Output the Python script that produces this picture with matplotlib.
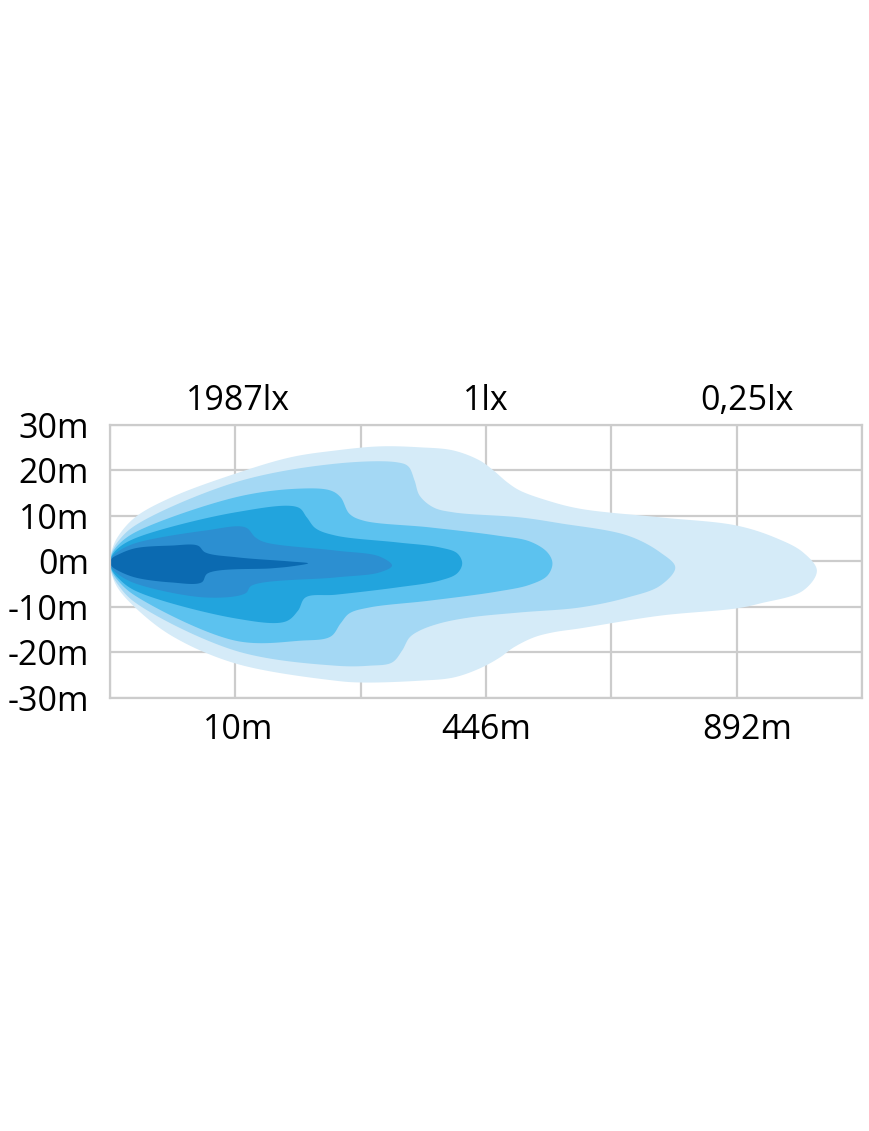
import numpy as np
import matplotlib
matplotlib.use("Agg")
from matplotlib import pyplot as plt

plt.rcParams['font.family'] = ['Open Sans', 'DejaVu Sans']

# label positions (in grid columns) and texts
label_pos = [1.02, 3.0, 5.08]
dist_labels = ['10m', '446m', '892m']
lux_labels = ['1987lx', '1lx', '0,25lx']
grid_cols = [0, 1, 2, 3, 4, 5, 6]
height_ticks = [30, 20, 10, 0, -10, -20, -30]
height_labels = ['30m', '20m', '10m', '0m', '-10m', '-20m', '-30m']

# isolux outlines, (column, metres), outer -> inner
zone1 = [(0, -0.2), (0.016, 2.6), (0.064, 5.5), (0.20, 9.7), (0.49, 14.1), (1.00, 19.3),
         (1.44, 22.9), (1.80, 24.4), (2.15, 25.3), (2.47, 25.1), (2.74, 24.4), (2.95, 22.2),
         (3.06, 20.0), (3.17, 17.4), (3.27, 15.6), (3.49, 13.4), (3.75, 11.6), (4.39, 9.7),
         (5.00, 7.9), (5.32, 5.1), (5.53, 2.0), (5.64, -2.0), (5.53, -6.4), (5.19, -9.2),
         (5.00, -10.3), (4.39, -11.9), (3.75, -14.7), (3.53, -15.6), (3.38, -16.7),
         (3.22, -18.9), (3.11, -21.1), (2.95, -23.5), (2.74, -25.5), (2.47, -26.2),
         (2.02, -26.6), (1.80, -26.2), (1.00, -22.4), (0.49, -16.3), (0.20, -10.1),
         (0.064, -5.9), (0.016, -3.0)]
zone2 = [(0, -0.2), (0.016, 2.1), (0.064, 4.4), (0.20, 7.9), (1.00, 17.4), (1.80, 21.5),
         (2.29, 21.8), (2.38, 20.9), (2.43, 17.8), (2.47, 14.5), (2.58, 11.9), (2.74, 10.8),
         (3.27, 9.7), (3.59, 8.4), (4.13, 5.7), (4.39, 2.0), (4.51, -1.3), (4.39, -5.3),
         (4.13, -7.9), (3.75, -10.1), (3.27, -11.2), (2.87, -12.3), (2.63, -13.6),
         (2.47, -15.2), (2.39, -16.7), (2.33, -19.6), (2.25, -22.2), (2.07, -22.9),
         (1.80, -22.9), (1.00, -19.6), (0.20, -9.0), (0.064, -5.1), (0.016, -2.7)]
zone3 = [(0, -0.2), (0.016, 1.7), (0.064, 3.6), (0.20, 6.4), (1.00, 14.1), (1.50, 16.0),
         (1.76, 15.6), (1.84, 14.1), (1.91, 10.5), (2.02, 9.0), (2.55, 7.5), (3.09, 5.7),
         (3.35, 4.4), (3.49, 2.0), (3.53, -0.4), (3.49, -3.1), (3.35, -5.1), (3.09, -6.6),
         (2.55, -8.6), (2.07, -10.1), (1.91, -11.4), (1.84, -13.6), (1.76, -16.5),
         (1.52, -17.4), (1.00, -17.4), (0.20, -7.5), (0.064, -4.2), (0.016, -2.2)]
zone4 = [(0, -0.2), (0.016, 1.3), (0.064, 2.9), (0.20, 5.1), (1.00, 10.8), (1.50, 11.9),
         (1.57, 9.7), (1.64, 7.3), (1.80, 5.7), (2.29, 4.2), (2.63, 3.1), (2.77, 1.8),
         (2.81, -0.4), (2.77, -2.6), (2.63, -4.2), (2.29, -5.7), (1.80, -7.3), (1.56, -7.9),
         (1.50, -10.8), (1.40, -13.2), (1.00, -12.5), (0.20, -6.4), (0.064, -3.6),
         (0.016, -1.9)]
zone5 = [(0, -0.2), (0.016, 1.0), (0.064, 2.2), (0.20, 4.0), (0.76, 6.8), (1.08, 7.5),
         (1.16, 5.3), (1.24, 4.2), (1.80, 2.4), (2.15, 1.1), (2.25, -0.9), (2.15, -2.4),
         (1.80, -3.5), (1.13, -5.3), (1.08, -7.0), (0.76, -7.9), (0.20, -4.8),
         (0.064, -2.8), (0.016, -1.5)]
zone6 = [(0, -0.2), (0.016, 0.7), (0.064, 1.5), (0.20, 2.9), (0.49, 3.5), (0.70, 3.5),
         (0.76, 2.0), (1.02, 0.9), (1.44, 0.0), (1.58, -0.4), (1.44, -1.1), (1.29, -1.5),
         (0.78, -2.6), (0.73, -4.6), (0.49, -4.6), (0.20, -3.5), (0.064, -2.0),
         (0.016, -1.1)]
zones = [zone1, zone2, zone3, zone4, zone5, zone6]
colors = ['#d5ebf8', '#a4d8f4', '#5cc2ef', '#22a4dd', '#2c8fd1', '#0b6ab1']

SX, SY = 752 / 6, 273 / 60  # rough px per unit, used for spline spacing


def smooth(pts, n=24):
    # closed centripetal catmull-rom
    p = np.array(pts, float) * [SX, SY]
    P = np.vstack([p[-1], p, p[0], p[1]])
    out = []
    for i in range(1, len(P) - 2):
        p0, p1, p2, p3 = P[i - 1], P[i], P[i + 1], P[i + 2]
        t0 = 0.0
        t1 = t0 + np.linalg.norm(p1 - p0) ** 0.5
        t2 = t1 + np.linalg.norm(p2 - p1) ** 0.5
        t3 = t2 + np.linalg.norm(p3 - p2) ** 0.5
        t = np.linspace(t1, t2, n, endpoint=False)[:, None]
        a1 = (t1 - t) / (t1 - t0) * p0 + (t - t0) / (t1 - t0) * p1
        a2 = (t2 - t) / (t2 - t1) * p1 + (t - t1) / (t2 - t1) * p2
        a3 = (t3 - t) / (t3 - t2) * p2 + (t - t2) / (t3 - t2) * p3
        b1 = (t2 - t) / (t2 - t0) * a1 + (t - t0) / (t2 - t0) * a2
        b2 = (t3 - t) / (t3 - t1) * a2 + (t - t1) / (t3 - t1) * a3
        out.append((t2 - t) / (t2 - t1) * b1 + (t - t1) / (t2 - t1) * b2)
    return np.vstack(out) / [SX, SY]


fig = plt.figure(figsize=(8.7, 11.31), dpi=100)
ax = fig.add_axes([110 / 870, 1 - 698 / 1131, 752 / 870, 273 / 1131])

grid_c = '#cccccc'
for xv in grid_cols:
    ax.axvline(xv, color=grid_c, lw=1.6, zorder=0)
for yv in height_ticks:
    ax.axhline(yv, color=grid_c, lw=1.6, zorder=0)

for z, c in zip(zones, colors):
    s = smooth(z)
    ax.fill(s[:, 0], s[:, 1], color=c, lw=0, zorder=2)

ax.set_xlim(0, 6)
ax.set_ylim(-30, 30)
for sp in ax.spines.values():
    sp.set_color(grid_c)
    sp.set_linewidth(1.6)

fs = 24.5
ax.set_xticks(label_pos, dist_labels, fontsize=fs)
ax.set_yticks(height_ticks, height_labels, fontsize=fs)
ax.tick_params(axis='x', length=0, pad=11)
ax.tick_params(axis='y', length=0, pad=15)

top = ax.secondary_xaxis('top')
top.set_xticks(label_pos, lux_labels, fontsize=fs)
top.tick_params(length=0, pad=5)
for sp in top.spines.values():
    sp.set_visible(False)

fig.savefig('out.png', dpi=100, facecolor='white')
